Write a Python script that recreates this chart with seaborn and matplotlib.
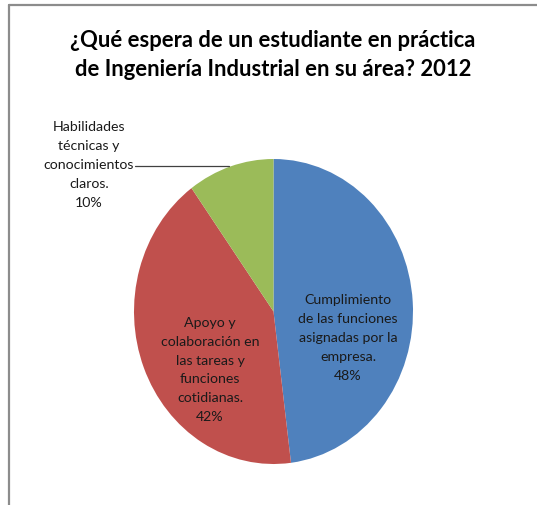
import matplotlib
matplotlib.use("Agg")
import matplotlib.pyplot as plt
from matplotlib.lines import Line2D
import seaborn as sns

# Survey results
categories = [
    "Cumplimiento\nde las funciones\nasignadas por la\nempresa.",
    "Apoyo y\ncolaboración en\nlas tareas y\nfunciones\ncotidianas.",
    "Habilidades\ntécnicas y\nconocimientos\nclaros.",
]
values = [48, 42, 10]
title = "¿Qué espera de un estudiante en práctica\nde Ingeniería Industrial en su área? 2012"

sns.set_theme(style="white")
plt.rcParams["font.family"] = ["Lato", "DejaVu Sans"]

colors = sns.color_palette(["#4F81BD", "#C0504D", "#9BBB59"])

W, H = 537, 506
fig = plt.figure(figsize=(W / 100, H / 100), dpi=100)
fig.patch.set_facecolor("white")

# chart frame (top and left borders)
fig.add_artist(Line2D([8.5 / W, 1], [1 - 5.5 / H, 1 - 5.5 / H], color="#8c8c8c", lw=1.6))
fig.add_artist(Line2D([8.5 / W, 8.5 / W], [0, 1 - 5.5 / H], color="#8c8c8c", lw=1.6))

fig.text(273 / W, 1 - 55 / H, title, ha="center", va="center", fontsize=15.8,
         fontweight="bold", color="black", linespacing=1.45)

# pie occupies an ellipse of 279 x 305 px
ax = fig.add_axes([134 / W, 41 / H, 279 / W, 305 / H])
wedges, _ = ax.pie(values, colors=colors, startangle=90, counterclock=False,
                   radius=1.0, wedgeprops=dict(linewidth=0))
ax.set_aspect("auto")
ax.set_xlim(-1, 1)
ax.set_ylim(-1, 1)
ax.axis("off")

labels = [f"{c}\n{v}%" for c, v in zip(categories, values)]
label_pos = [(0.534, -0.167), (-0.455, -0.377), (-1.323, 0.967)]
for txt, (x, y) in zip(labels, label_pos):
    ax.text(x, y, txt, ha="center", va="center", fontsize=10.2, color="#1a1a1a",
            linespacing=1.68, clip_on=False)

# leader line for the small slice
ax.plot([-0.993, -0.319], [0.954, 0.954], color="#404040", lw=0.9, clip_on=False)

fig.savefig("out.png", dpi=100, facecolor="white")
